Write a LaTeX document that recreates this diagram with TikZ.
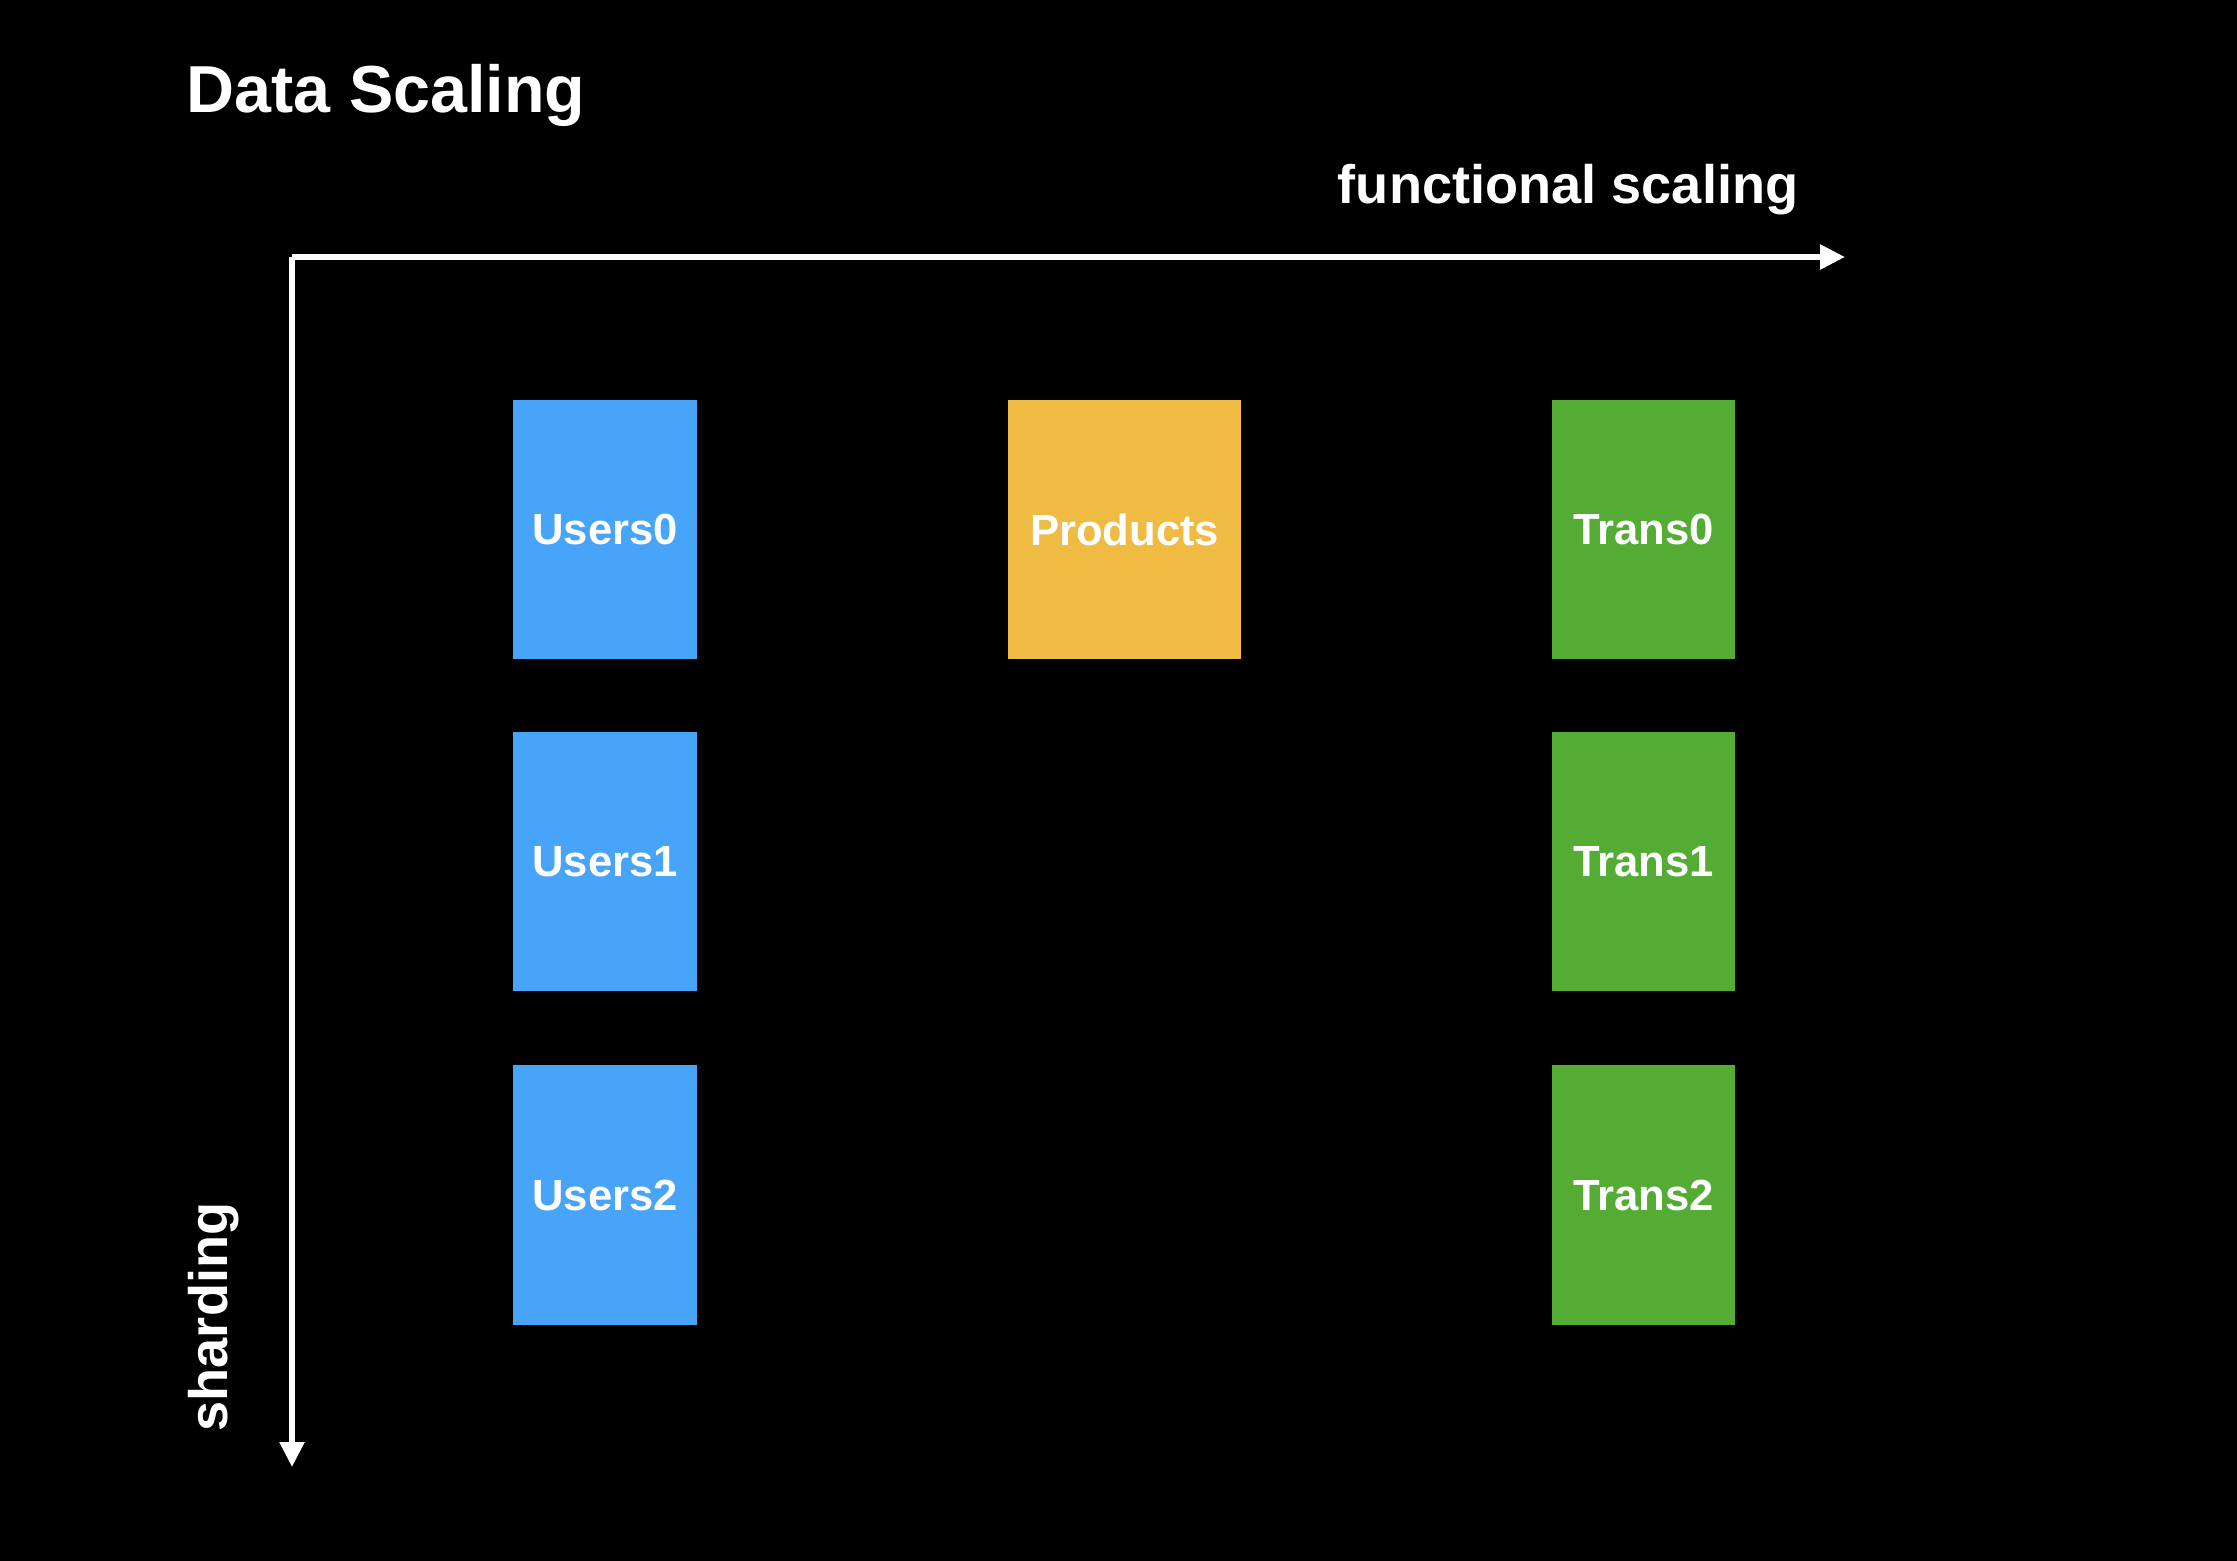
\documentclass[tikz,border=0pt]{standalone}
\usepackage{fontspec}
\setmainfont{Liberation Sans}
\usetikzlibrary{arrows.meta}
\definecolor{bg_black}{RGB}{0,0,0}
\definecolor{users_blue}{RGB}{71,164,249}
\definecolor{prod_yellow}{RGB}{239,187,66}
\definecolor{trans_green}{RGB}{84,172,52}
\tikzset{ db_box/.style = {rectangle, inner sep=0pt, text=white, font=\fontsize{12.4}{15}\selectfont\bfseries} }
\tikzset{ users_box/.style = {db_box, fill=users_blue, minimum width=1.84cm, minimum height=2.59cm} }
\tikzset{ prod_box/.style = {db_box, fill=prod_yellow, minimum width=2.33cm, minimum height=2.59cm} }
\tikzset{ trans_box/.style = {db_box, fill=trans_green, minimum width=1.83cm, minimum height=2.59cm} }
\tikzset{ axis_line/.style = {draw=white, line width=1.6pt, -{Triangle[length=0.25cm, width=0.24cm]}} }
\tikzset{ axis_label/.style = {text=white, inner sep=0pt, font=\fontsize{15.4}{18}\selectfont\bfseries} }
\begin{document}
\begin{tikzpicture}[x=0.01cm, y=-0.01cm]
            \useasboundingbox (0,0) rectangle (2237,1560);
            \fill[bg_black] (-10,-10) rectangle (2247,1570);
                \node [text=white, inner sep=0pt, anchor=base west, font=\fontsize{18.9}{23}\selectfont\bfseries] (title) at (186,112) {Data Scaling};
                % axes
                \coordinate (origin) at (292,257);
                \coordinate (xend) at (1845,257);
                \coordinate (yend) at (292,1467);
                \draw[axis_line] (origin) -- (xend);
                \draw[axis_line] (origin) -- (yend);
                \node [style=axis_label, anchor=base east] (func) at (1799,203) {functional scaling};
                \node [style=axis_label, anchor=base west, rotate=90] (shard) at (227,1432) {sharding};
                % shards
                \node [style=users_box] (U0) at (605,529.5) {Users0};
                \node [style=users_box] (U1) at (605,861.5) {Users1};
                \node [style=users_box] (U2) at (605,1195) {Users2};
                \node [style=prod_box] (P) at (1124.5,529.5) {Products};
                \node [style=trans_box] (T0) at (1643.5,529.5) {Trans0};
                \node [style=trans_box] (T1) at (1643.5,861.5) {Trans1};
                \node [style=trans_box] (T2) at (1643.5,1195) {Trans2};
        \end{tikzpicture}
\end{document}
